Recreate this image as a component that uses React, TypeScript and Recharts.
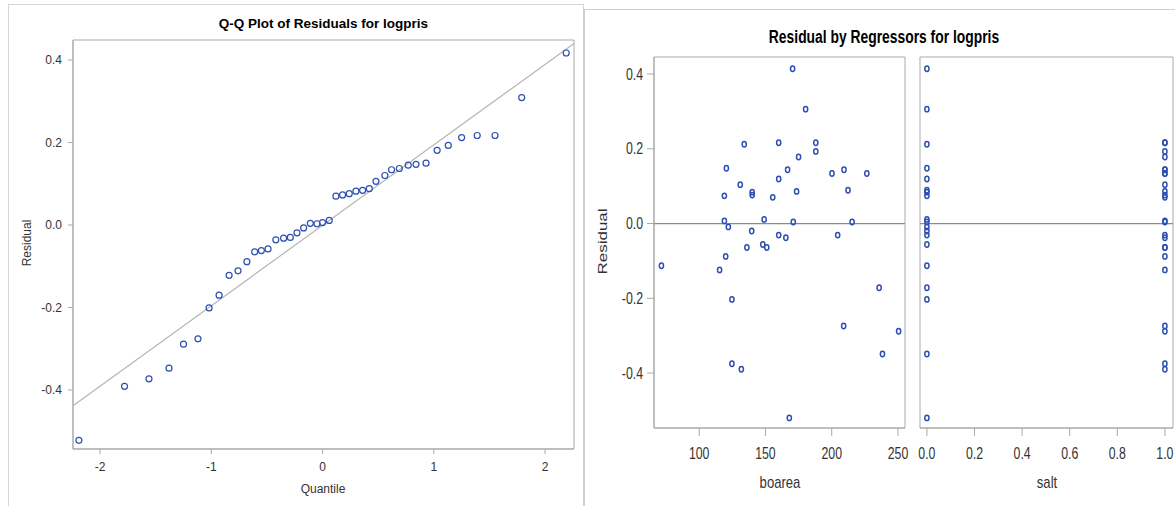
import { ScatterChart, Scatter, XAxis, YAxis, ReferenceArea, ReferenceLine } from 'recharts';

// Q-Q plot: normal quantile vs sorted residual
const qqQuantile = [-2.19, -1.78, -1.56, -1.38, -1.25, -1.12, -1.02, -0.93, -0.84, -0.76, -0.68, -0.61, -0.55, -0.49, -0.42, -0.35, -0.29, -0.23, -0.17, -0.11, -0.05, 0.0, 0.06, 0.12, 0.18, 0.24, 0.30, 0.36, 0.42, 0.48, 0.56, 0.62, 0.69, 0.77, 0.84, 0.93, 1.03, 1.13, 1.25, 1.39, 1.55, 1.79, 2.19];
const qqResidual = [-0.522, -0.391, -0.373, -0.347, -0.289, -0.276, -0.201, -0.170, -0.122, -0.111, -0.089, -0.065, -0.062, -0.058, -0.036, -0.032, -0.030, -0.019, -0.007, 0.004, 0.003, 0.006, 0.011, 0.070, 0.073, 0.076, 0.082, 0.084, 0.088, 0.106, 0.120, 0.134, 0.137, 0.145, 0.147, 0.150, 0.181, 0.193, 0.212, 0.217, 0.217, 0.309, 0.417];
const qqLineX = [-2.243, 2.26];
const qqLineY = [-0.438, 0.440];

// residual by regressors
const boarea = [170.5, 180.3, 134, 160, 188, 188, 175, 120.5, 166.7, 200.2, 209.3, 226.5, 131, 160, 140, 140, 119, 155.5, 173.5, 212.3, 119, 122, 149, 171, 215.4, 139.6, 160, 165.4, 204.5, 136, 148, 151, 120, 71.5, 115.4, 124.7, 124.7, 131.8, 168, 209, 235.8, 238.3, 250.5];
const salt = [0, 0, 0, 1, 1, 1, 1, 0, 1, 1, 1, 1, 1, 0, 0, 1, 0, 1, 1, 0, 1, 0, 0, 0, 1, 0, 1, 1, 0, 1, 0, 1, 1, 0, 1, 0, 1, 1, 0, 1, 0, 0, 1];
const residual = [0.414, 0.306, 0.212, 0.216, 0.216, 0.193, 0.178, 0.148, 0.144, 0.134, 0.144, 0.134, 0.104, 0.119, 0.084, 0.076, 0.074, 0.070, 0.086, 0.089, 0.007, -0.009, 0.011, 0.004, 0.004, -0.020, -0.031, -0.038, -0.031, -0.064, -0.056, -0.064, -0.088, -0.113, -0.124, -0.203, -0.375, -0.390, -0.520, -0.274, -0.172, -0.349, -0.288];

const qqTicksX = [-2, -1, 0, 1, 2];
const residTicks = [-0.4, -0.2, 0, 0.2, 0.4];
const boareaTicks = [100, 150, 200, 250];
const saltTicks = [0, 0.2, 0.4, 0.6, 0.8, 1.0];

const BLUE = '#2d4fb0';
const FRAME = '#a9a9a9';
const TXT = '#333';
const FONT = '"Liberation Sans", Arial, sans-serif';
const SQUEEZE = 0.77;

const qqData = qqQuantile.map((q, i) => ({ q, r: qqResidual[i] }));
const qqLine = qqLineX.map((q, i) => ({ q, r: qqLineY[i] }));
const obs = boarea.map((b, i) => ({ boarea: b, salt: salt[i], residual: residual[i] }));

const QQDot = (p: any) => <circle cx={p.cx} cy={p.cy} r={3} fill="none" stroke={BLUE} strokeWidth={1.2} />;
const SmallDot = (p: any) => <ellipse cx={p.cx} cy={p.cy} rx={2.1} ry={2.7} fill="none" stroke={BLUE} strokeWidth={1.5} />;

function NarrowXTick({ x, y, payload, fmt }: any) {
  return (
    <g transform={`translate(${x},${y})`}>
      <text transform={`scale(${SQUEEZE},1)`} textAnchor="middle" dy={21} fontSize={16} fill={TXT} fontFamily={FONT}>
        {fmt(payload.value)}
      </text>
    </g>
  );
}

function NarrowYTick({ x, y, payload }: any) {
  return (
    <g transform={`translate(${x},${y})`}>
      <text transform={`scale(${SQUEEZE},1)`} textAnchor="end" dy={5.5} fontSize={16} fill={TXT} fontFamily={FONT}>
        {Number(payload.value).toFixed(1)}
      </text>
    </g>
  );
}

function Narrow({ children, left, top, width, size, bold }: any) {
  return (
    <div style={{ position: 'absolute', left, top, width, textAlign: 'center', fontSize: size, fontWeight: bold ? 'bold' : 'normal', color: bold ? '#000' : TXT, transform: `scaleX(${SQUEEZE})`, whiteSpace: 'nowrap', lineHeight: 1 }}>
      {children}
    </div>
  );
}

export default function App() {
  return (
    <div style={{ position: 'absolute', left: 0, top: 0, width: 1175, height: 506, background: '#fff', fontFamily: FONT, overflow: 'hidden' }}>
      {/* panel frames */}
      <div style={{ position: 'absolute', left: 8, top: 4, width: 574, height: 520, border: '1px solid #d6d6d6' }} />
      <div style={{ position: 'absolute', left: 583, top: 9, width: 600, height: 520, borderTop: '1px solid #d0d0d0', borderLeft: '2px solid #cfcfcf' }} />

      {/* Q-Q plot */}
      <div style={{ position: 'absolute', left: 73, top: 17, width: 501, textAlign: 'center', fontSize: 13.5, fontWeight: 'bold', lineHeight: 1 }}>
        Q-Q Plot of Residuals for logpris
      </div>
      <div style={{ position: 'absolute', left: 0, top: 0 }}>
        <ScatterChart width={585} height={506} margin={{ top: 40, right: 11, bottom: 27, left: 13 }}>
          <XAxis type="number" dataKey="q" domain={[-2.243, 2.26]} ticks={qqTicksX} allowDataOverflow height={30}
            axisLine={{ stroke: FRAME }} tickLine={{ stroke: FRAME }} tickSize={5} tickMargin={8}
            tick={{ fill: TXT, fontSize: 12, fontFamily: FONT }} />
          <YAxis type="number" dataKey="r" domain={[-0.543, 0.4485]} ticks={residTicks} allowDataOverflow width={60}
            tickFormatter={(v: number) => v.toFixed(1)}
            axisLine={{ stroke: FRAME }} tickLine={{ stroke: FRAME }} tickSize={5} tickMargin={6}
            tick={{ fill: TXT, fontSize: 12, fontFamily: FONT }} />
          <ReferenceArea x1={-2.243} x2={2.26} y1={-0.543} y2={0.4485} fill="none" stroke={FRAME} strokeOpacity={1} />
          <Scatter data={qqLine} line={{ stroke: '#b5b5b5', strokeWidth: 1.2 }} shape={() => <g />} isAnimationActive={false} />
          <Scatter data={qqData} shape={QQDot} isAnimationActive={false} />
        </ScatterChart>
      </div>
      <div style={{ position: 'absolute', left: 27, top: 244, width: 0, height: 0 }}>
        <div style={{ position: 'absolute', left: -40, top: -7, width: 80, textAlign: 'center', fontSize: 12, color: TXT, transform: 'rotate(-90deg)', lineHeight: 1 }}>Residual</div>
      </div>
      <div style={{ position: 'absolute', left: 273, top: 483, width: 100, textAlign: 'center', fontSize: 12, color: TXT, lineHeight: 1 }}>Quantile</div>

      {/* Residual by regressors */}
      <Narrow left={684} top={28} width={400} size={18} bold>Residual by Regressors for logpris</Narrow>
      <div style={{ position: 'absolute', left: 585, top: 0 }}>
        <ScatterChart width={330} height={506} margin={{ top: 57, right: 10, bottom: 48, left: 9 }}>
          <XAxis type="number" dataKey="boarea" domain={[65.9, 255.3]} ticks={boareaTicks} allowDataOverflow height={30}
            axisLine={{ stroke: FRAME }} tickLine={{ stroke: FRAME }} tickSize={8} tickMargin={2}
            tick={<NarrowXTick fmt={(v: number) => String(v)} />} />
          <YAxis type="number" dataKey="residual" domain={[-0.547, 0.4455]} ticks={residTicks} allowDataOverflow width={60}
            axisLine={{ stroke: FRAME }} tickLine={{ stroke: FRAME }} tickSize={7} tickMargin={4}
            tick={<NarrowYTick />} />
          <ReferenceArea x1={65.9} x2={255.3} y1={-0.547} y2={0.4455} fill="none" stroke={FRAME} strokeOpacity={1} />
          <ReferenceLine y={0} stroke="#8c8c8c" strokeWidth={1.2} />
          <Scatter data={obs} shape={SmallDot} isAnimationActive={false} />
        </ScatterChart>
      </div>
      <div style={{ position: 'absolute', left: 915, top: 0 }}>
        <ScatterChart width={260} height={506} margin={{ top: 57, right: 2, bottom: 48, left: 5 }}>
          <XAxis type="number" dataKey="salt" domain={[-0.029, 1.034]} ticks={saltTicks} allowDataOverflow height={30}
            axisLine={{ stroke: FRAME }} tickLine={{ stroke: FRAME }} tickSize={8} tickMargin={2}
            tick={<NarrowXTick fmt={(v: number) => v.toFixed(1)} />} />
          <YAxis type="number" dataKey="residual" domain={[-0.547, 0.4455]} allowDataOverflow hide />
          <ReferenceArea x1={-0.029} x2={1.034} y1={-0.547} y2={0.4455} fill="none" stroke={FRAME} strokeOpacity={1} />
          <ReferenceLine y={0} stroke="#8c8c8c" strokeWidth={1.2} />
          <Scatter data={obs} shape={SmallDot} isAnimationActive={false} />
        </ScatterChart>
      </div>
      <div style={{ position: 'absolute', left: 603, top: 242, width: 0, height: 0 }}>
        <div style={{ position: 'absolute', left: -50, top: -9, width: 100, textAlign: 'center', fontSize: 17, color: TXT, transform: `rotate(-90deg) scaleY(${SQUEEZE})`, lineHeight: 1 }}>Residual</div>
      </div>
      <Narrow left={730} top={474} width={100} size={17}>boarea</Narrow>
      <Narrow left={997} top={474} width={100} size={17}>salt</Narrow>
    </div>
  );
}
